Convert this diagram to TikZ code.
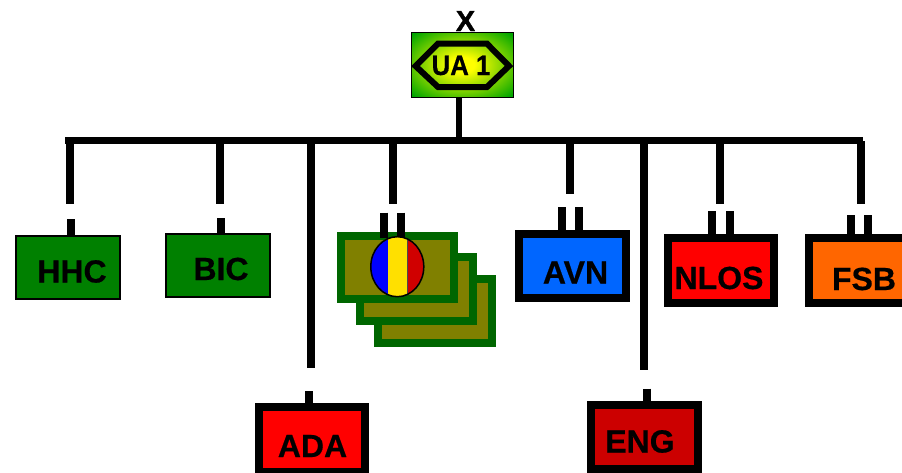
\documentclass[tikz,border=0pt]{standalone}
\usepackage{fontspec}
\setmainfont{Liberation Sans}
\newfontfamily\heavyfont[FakeBold=0.5]{Liberation Sans Bold}
\newfontfamily\heavierfont[FakeBold=1.2]{Liberation Sans Bold}
\usetikzlibrary{shapes.geometric}
\definecolor{unitgreen}{RGB}{0,128,0}
\definecolor{stackgreen}{RGB}{0,102,0}
\definecolor{stackolive}{RGB}{128,128,0}
\definecolor{engred}{RGB}{204,0,0}
\definecolor{avnblue}{RGB}{0,102,255}
\definecolor{fsborange}{RGB}{255,102,0}
\definecolor{flagyellow}{RGB}{255,224,0}
\definecolor{flagred}{RGB}{208,0,0}
\definecolor{uagreen}{RGB}{0,165,0}
\definecolor{uayellow}{RGB}{255,255,0}
\pgfdeclareradialshading{uashade}{\pgfpoint{0bp}{0bp}}{color(0bp)=(uayellow); color(6bp)=(uayellow); color(34bp)=(uagreen); color(50bp)=(uagreen)}
\tikzset{
  x=1pt,y=-1pt,
  wire/.style={line width=8pt,black,line cap=butt},
  bus/.style={line width=7.5pt,black,line cap=butt},
  thin box/.style={draw=black,line width=2pt,fill=unitgreen,inner sep=0pt,outer sep=1pt,anchor=north west},
  thick box/.style={draw=black,line width=8pt,inner sep=0pt,outer sep=4pt,anchor=north west},
  stack box/.style={draw=stackgreen,line width=8pt,fill=stackolive,inner sep=0pt,outer sep=4pt,anchor=north west,minimum width=113.3pt,minimum height=63.6pt},
  lbl/.style={inner sep=0pt,outer sep=0pt,anchor=base,font=\fontsize{32}{32}\heavyfont},
}
\begin{document}
\begin{tikzpicture}
\useasboundingbox (0,0) rectangle (902,472);
\clip (0,0) rectangle (902,472);
% headquarters
\node[lbl,font=\fontsize{29}{30}\heavierfont] (xmark) at (465.5,31) {X};
\node[draw=black,line width=1pt,inner sep=0pt,outer sep=.5pt,anchor=north west,minimum width=101.5pt,minimum height=64.5pt,shading=uashade] (ua) at (411,32) {};
\draw[line width=6pt,black,miter limit=10] (415.5,66) -- (438,43.7) -- (487,43.7) -- (509,66) -- (487,87) -- (438,87) -- cycle;
\node[lbl] (ualbl) at (461,75) {\fontsize{28}{28}\selectfont\scalebox{.92}[1]{UA 1}};
% bus
\coordinate (busL) at (65,140.5);
\coordinate (busR) at (862.7,140.5);
\draw[line width=6pt] ([xshift=-3pt]ua.south) -- ([xshift=-3pt]ua.south |- busL);
\draw[bus] (busL) -- (busR);
% boxes
\node[thin box,minimum width=104.3pt,minimum height=62.7pt] (hhc) at (14.7,235.3) {};
\node[thin box,minimum width=104.3pt,minimum height=62.4pt] (bic) at (164.7,233.3) {};
\node[thick box,fill=avnblue,minimum width=106.4pt,minimum height=64.3pt] (avn) at (515.3,230) {};
\node[thick box,fill=red,minimum width=106pt,minimum height=64.4pt] (nlos) at (664,234.3) {};
\node[thick box,fill=fsborange,minimum width=106pt,minimum height=64.4pt] (fsb) at (804.7,234.3) {};
\node[thick box,fill=red,minimum width=105.7pt,minimum height=64.2pt] (ada) at (255.3,403.3) {};
\node[thick box,fill=engred,minimum width=106.7pt,minimum height=64.3pt] (eng) at (587.3,400.7) {};
\node[stack box] (s3) at (374.3,275) {};
\node[stack box] (s2) at (355.7,253.3) {};
\node[stack box] (s1) at (336.7,231.7) {};
% labels
\node[lbl] (hhcl) at (72,282.5) {HHC};
\node[lbl] (bicl) at (221,280) {BIC};
\node[lbl] (avnl) at (575.5,283.5) {AVN};
\node[lbl] (nlosl) at (719,289) {NLOS};
\node[lbl] (fsbl) at (864,290) {FSB};
\node[lbl] (adal) at (312.5,457) {ADA};
\node[lbl] (engl) at (640,452.5) {ENG};
% upper drops
\foreach \n/\x/\e in {a/70/204,b/220/204,c/393/204.3,d/569.7/194,e/720/204,f/861/204,g/311/368,h/644/370}{
  \coordinate (top\n) at (\x,141);
  \coordinate (end\n) at (\x,\e);
  \draw[wire] (top\n) -- (end\n);
}
% lower stubs
\foreach \x/\t/\nm in {70.7/219.3/hhc,220.7/218/bic,309.3/391/ada,647/388.7/eng,561.7/207.3/avn,579.3/207.3/avn,712.3/211.3/nlos,729.7/211.3/nlos,850.5/215/fsb,868/215/fsb}{
  \coordinate (st) at (\x,\t);
  \draw[wire] (st) -- (st |- \nm.north);
}
\coordinate (sc1) at (384.3,212.7);
\coordinate (sc2) at (401.3,212.7);
\draw[wire] (sc1) -- ++(0,25);
\draw[wire] (sc2) -- ++(0,25);
% flag disc
\node[ellipse,draw=black,line width=1.5pt,inner sep=0pt,minimum width=53pt,minimum height=60pt,fill=flagyellow,
  path picture={
    \fill[blue] (-40,-40) rectangle (-9.6,40);
    \fill[flagred] (10,-40) rectangle (40,40);
    \draw[black!70,line width=.6pt] (10,-40) -- (10,40);
  }] (flag) at (397.3,266.7) {};
\end{tikzpicture}
\end{document}
